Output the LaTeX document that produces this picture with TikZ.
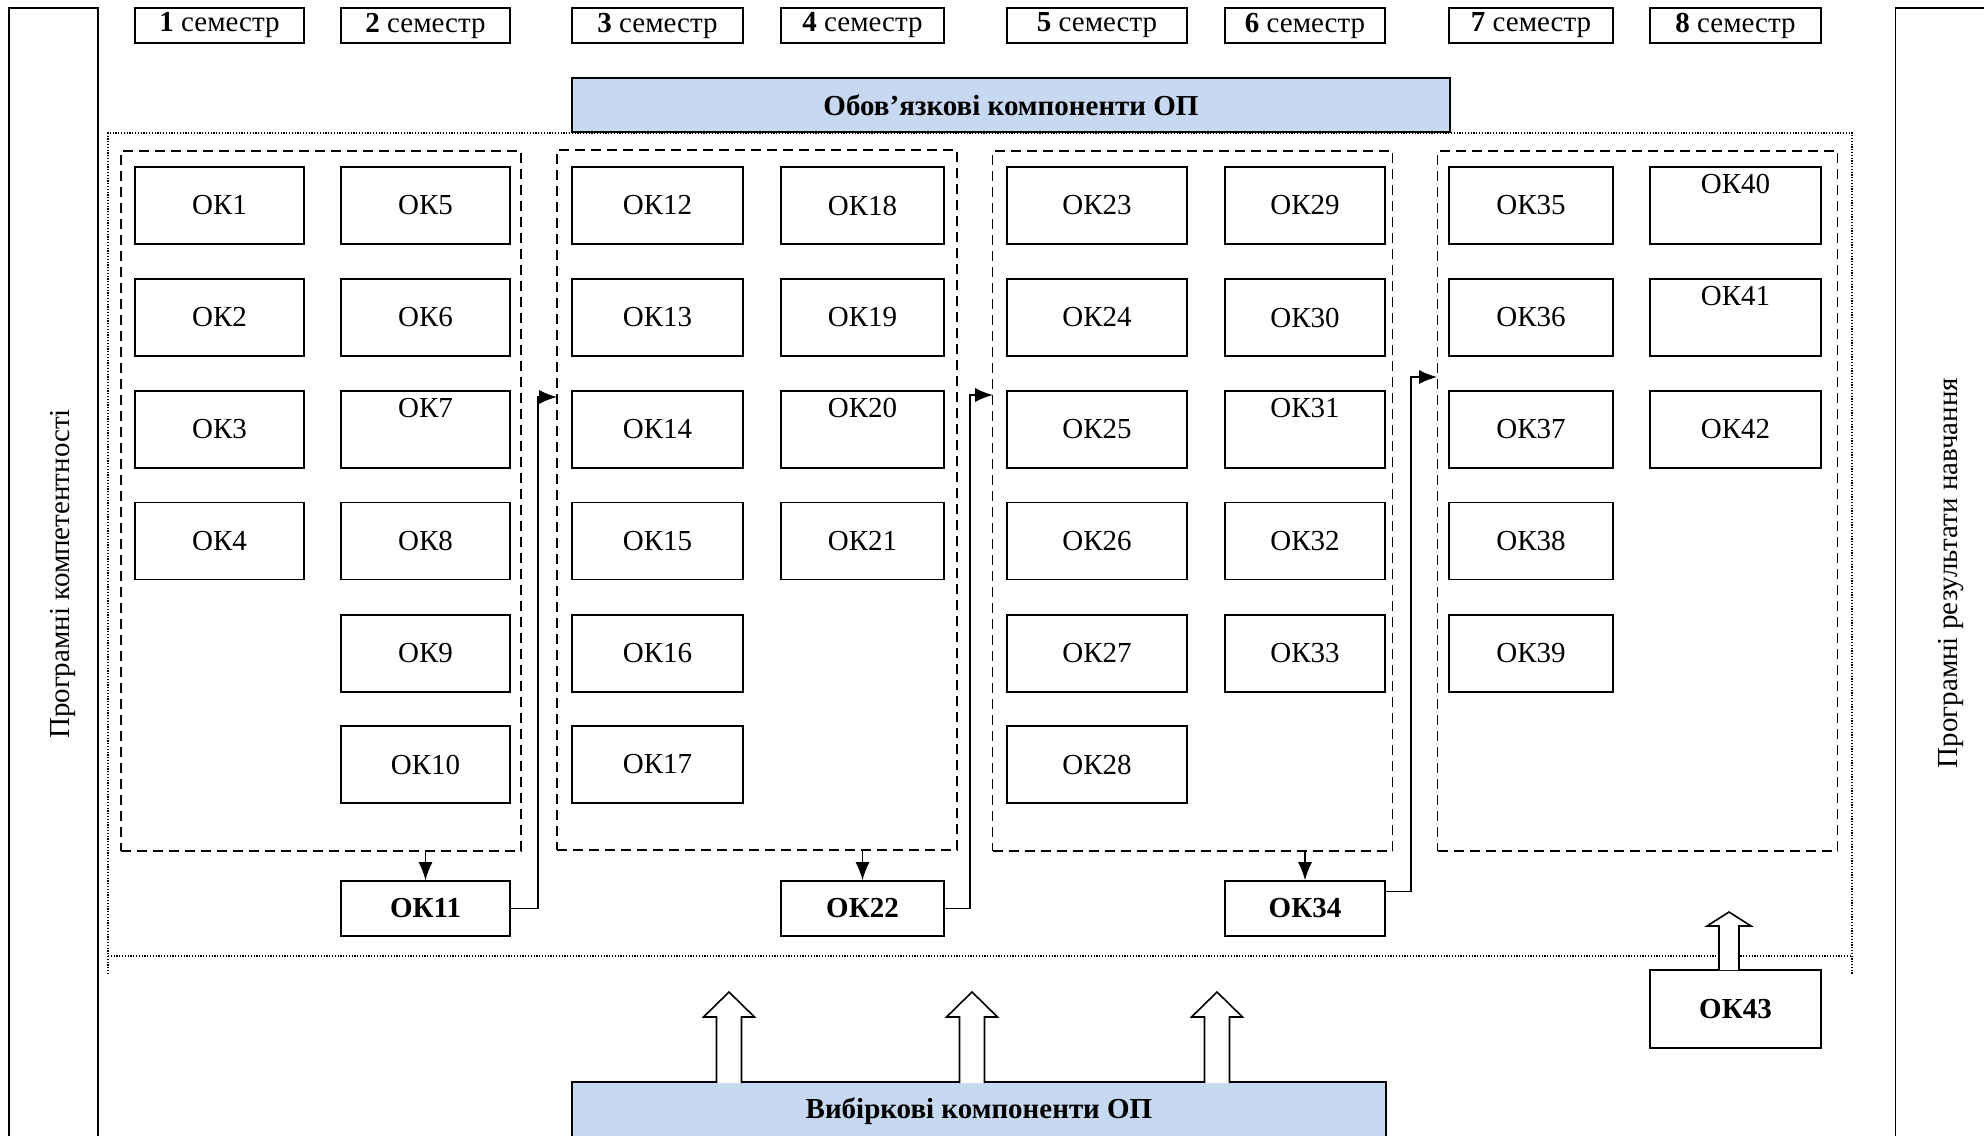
\documentclass[tikz,border=0pt]{standalone}
\usepackage{fontspec}
\setmainfont{Liberation Serif}
\usepackage{tikz}
\usetikzlibrary{arrows.meta}
\definecolor{opblue}{RGB}{198,217,241}

\begin{document}
\begin{tikzpicture}[x=0.5pt, y=-0.5pt, >={Latex[length=9pt,width=7pt]},
        font=\fontsize{14.5}{17}\selectfont,
        okbox/.style={draw, line width=0.8pt, inner sep=0pt, minimum width=#1, minimum height=38.5pt},
        okup/.style={text depth=22pt},
        okbot/.style={okbox=#1, minimum height=27.5pt, font=\fontsize{14.5}{17}\selectfont\bfseries},
        sembox/.style={draw, line width=0.9pt, inner sep=0pt, minimum width=#1, minimum height=17.5pt},
        grpbox/.style={draw, dash pattern=on 5pt off 3pt, line width=0.6pt, inner sep=0pt, minimum width=200pt, minimum height=350pt},
        opbox/.style={draw, fill=opblue, line width=0.8pt, inner sep=0pt, font=\fontsize{14.5}{17}\selectfont\bfseries},
        sidebox/.style={draw, line width=0.8pt, inner sep=0pt, minimum width=44.5pt, minimum height=571pt},
        hollow/.style={draw, fill=white, line width=0.8pt},
        link/.style={line width=0.7pt},
        frame/.style={line width=0.6pt, dash pattern=on 0.6pt off 0.8pt}]
        \useasboundingbox (0,0) rectangle (1984,1135);

        % Side columns
        \node[sidebox] (komp) at (53.5,579) {};
        \node[sidebox] (rezult) at (1940,579) {};
        \node[rotate=90] (kompt) at (63,574) {Програмні компетентності};
        \node[rotate=90] (rezultt) at (1951,573) {Програмні результати навчання};

        % Semesters
        \node[sembox=84.5pt] (sem1) at (219.5,25.5) {{\bfseries 1} семестр};
        \node[sembox=84.5pt] (sem2) at (425.5,25.5) {{\bfseries 2} семестр};
        \node[sembox=85.5pt] (sem3) at (657.5,25.5) {{\bfseries 3} семестр};
        \node[sembox=81.5pt] (sem4) at (862.5,25.5) {{\bfseries 4} семестр};
        \node[sembox=90pt] (sem5) at (1097,25.5) {{\bfseries 5} семестр};
        \node[sembox=80pt] (sem6) at (1305,25.5) {{\bfseries 6} семестр};
        \node[sembox=82pt] (sem7) at (1531,25.5) {{\bfseries 7} семестр};
        \node[sembox=85.5pt] (sem8) at (1735.5,25.5) {{\bfseries 8} семестр};

        \node[opbox, minimum width=439pt, minimum height=27pt] (obov) at (1011,105) {Обов’язкові компоненти ОП};

        % Outer dotted frame
        \draw[frame] (108,974) -- (108,133) -- (1852,133) -- (1852,974);
        \draw[frame] (108,956) -- (1852,956);

        % Dashed groups (pairs of semesters)
        \node[grpbox] (grp1) at (321,501) {};
        \node[grpbox] (grp2) at (757,500) {};
        \node[grpbox] (grp3) at (1192.5,501) {};
        \node[grpbox] (grp4) at (1637.5,501) {};

        % Semesters 1-2
        \node[okbox=84.5pt] (ok1) at (219.5,205.5) {ОК1};
        \node[okbox=84.5pt] (ok2) at (219.5,317.5) {ОК2};
        \node[okbox=84.5pt] (ok3) at (219.5,429.5) {ОК3};
        \node[okbox=84.5pt] (ok4) at (219.5,541) {ОК4};
        \node[okbox=84.5pt] (ok5) at (425.5,205.5) {ОК5};
        \node[okbox=84.5pt] (ok6) at (425.5,317.5) {ОК6};
        \node[okbox=84.5pt, okup] (ok7) at (425.5,429.5) {ОК7};
        \node[okbox=84.5pt] (ok8) at (425.5,541) {ОК8};
        \node[okbox=84.5pt] (ok9) at (425.5,653.5) {ОК9};
        \node[okbox=84.5pt] (ok10) at (425.5,764.5) {ОК10};

        % Semesters 3-4
        \node[okbox=85.5pt] (ok12) at (657.5,205.5) {ОК12};
        \node[okbox=85.5pt] (ok13) at (657.5,317.5) {ОК13};
        \node[okbox=85.5pt] (ok14) at (657.5,429.5) {ОК14};
        \node[okbox=85.5pt] (ok15) at (657.5,541) {ОК15};
        \node[okbox=85.5pt] (ok16) at (657.5,653.5) {ОК16};
        \node[okbox=85.5pt] (ok17) at (657.5,764.5) {ОК17};
        \node[okbox=81.5pt] (ok18) at (862.5,205.5) {ОК18};
        \node[okbox=81.5pt] (ok19) at (862.5,317.5) {ОК19};
        \node[okbox=81.5pt, okup] (ok20) at (862.5,429.5) {ОК20};
        \node[okbox=81.5pt] (ok21) at (862.5,541) {ОК21};

        % Semesters 5-6
        \node[okbox=90pt] (ok23) at (1097,205.5) {ОК23};
        \node[okbox=90pt] (ok24) at (1097,317.5) {ОК24};
        \node[okbox=90pt] (ok25) at (1097,429.5) {ОК25};
        \node[okbox=90pt] (ok26) at (1097,541) {ОК26};
        \node[okbox=90pt] (ok27) at (1097,653.5) {ОК27};
        \node[okbox=90pt] (ok28) at (1097,764.5) {ОК28};
        \node[okbox=80pt] (ok29) at (1305,205.5) {ОК29};
        \node[okbox=80pt] (ok30) at (1305,317.5) {ОК30};
        \node[okbox=80pt, okup] (ok31) at (1305,429.5) {ОК31};
        \node[okbox=80pt] (ok32) at (1305,541) {ОК32};
        \node[okbox=80pt] (ok33) at (1305,653.5) {ОК33};

        % Semesters 7-8
        \node[okbox=82pt] (ok35) at (1531,205.5) {ОК35};
        \node[okbox=82pt] (ok36) at (1531,317.5) {ОК36};
        \node[okbox=82pt] (ok37) at (1531,429.5) {ОК37};
        \node[okbox=82pt] (ok38) at (1531,541) {ОК38};
        \node[okbox=82pt] (ok39) at (1531,653.5) {ОК39};
        \node[okbox=85.5pt, okup] (ok40) at (1735.5,205.5) {ОК40};
        \node[okbox=85.5pt, okup] (ok41) at (1735.5,317.5) {ОК41};
        \node[okbox=85.5pt] (ok42) at (1735.5,429.5) {ОК42};

        % Final components of each pair
        \node[okbot=84.5pt] (ok11) at (425.5,908.5) {ОК11};
        \node[okbot=81.5pt] (ok22) at (862.5,908.5) {ОК22};
        \node[okbot=80pt] (ok34) at (1305,908.5) {ОК34};
        \node[okbot=85.5pt, minimum height=39pt] (ok43) at (1735.5,1009) {ОК43};

        \node[opbox, minimum width=407pt, minimum height=29pt] (vyb) at (979,1111) {Вибіркові компоненти ОП};

        % Links between groups
        \draw[link,->] (ok11.north |- grp1.south) -- (ok11.north);
        \draw[link,->] (ok22.north |- grp2.south) -- (ok22.north);
        \draw[link,->] (ok34.north |- grp3.south) -- (ok34.north);
        \coordinate (in2) at (557,397);
        \coordinate (in3) at (993,395);
        \coordinate (in4) at (1437,377);
        \draw[link,->] (ok11.east) -- ++(27,0) |- (in2);
        \draw[link,->] (ok22.east) -- ++(25,0) |- (in3);
        \draw[link,->] ([yshift=8.5pt]ok34.east) -- ++(25,0) |- (in4);

        % Hollow arrows
        \draw[hollow] (716.5,1083) -- ++(0,-66) -- ++(-13,0) -- ++(25.5,-25) -- ++(25.5,25) -- ++(-13,0) -- ++(0,66);
        \draw[hollow] (959.5,1083) -- ++(0,-66) -- ++(-13,0) -- ++(25.5,-25) -- ++(25.5,25) -- ++(-13,0) -- ++(0,66);
        \draw[hollow] (1204.5,1083) -- ++(0,-66) -- ++(-13,0) -- ++(25.5,-25) -- ++(25.5,25) -- ++(-13,0) -- ++(0,66);
        \draw[hollow] (1719,970) -- ++(0,-44) -- ++(-12,0) -- ++(22,-14) -- ++(22,14) -- ++(-12,0) -- ++(0,44);
    \end{tikzpicture}
\end{document}
